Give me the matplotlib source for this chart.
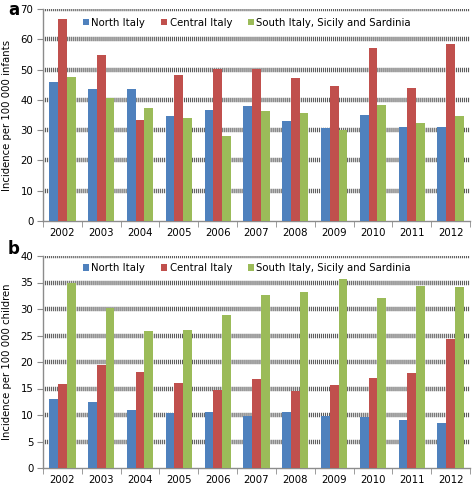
import numpy as np
import matplotlib.pyplot as plt

plt.rcParams['lines.scale_dashes'] = False
plt.rcParams['font.family'] = ['DejaVu Sans']

years = ['2002', '2003', '2004', '2005', '2006', '2007', '2008', '2009', '2010', '2011', '2012']
regions = ['North Italy', 'Central Italy', 'South Italy, Sicily and Sardinia']
colors = ['#4F81BD', '#C0504D', '#9BBB59']

# panel a: infants
infants_north = [45.9, 43.6, 43.7, 34.8, 36.5, 38.1, 32.9, 30.7, 34.9, 31.1, 30.9]
infants_central = [66.7, 54.9, 33.2, 48.2, 50.2, 50.1, 47.2, 44.7, 57.0, 43.9, 58.6]
infants_south = [47.6, 40.6, 37.3, 34.0, 28.0, 36.4, 35.5, 30.2, 38.4, 32.2, 34.8]

# panel b: children
children_north = [13.1, 12.5, 10.9, 10.4, 10.6, 9.9, 10.6, 9.8, 9.7, 9.0, 8.5]
children_central = [15.8, 19.4, 18.1, 16.1, 14.7, 16.7, 14.5, 15.6, 16.9, 18.0, 24.3]
children_south = [34.9, 30.1, 25.9, 26.1, 28.8, 32.6, 33.3, 35.6, 32.0, 34.3, 34.2]

fs = 7.3
grey = '#8c8c8c'


def draw_panel(ax, series, ymax, ystep, ylabel, leg_y):
    x = np.arange(len(years))
    w = 0.225
    for i, (vals, c, name) in enumerate(zip(series, colors, regions)):
        ax.bar(x + (i - 1) * w, vals, width=w, color=c, label=name, zorder=3)
    ax.set_xlim(-0.5, len(years) - 0.5)
    ax.set_ylim(0, ymax)
    ax.set_yticks(np.arange(0, ymax + 0.1, ystep))
    ax.set_xticks(x)
    ax.set_xticklabels(years)
    ax.set_xticks(np.arange(-0.5, len(years), 1), minor=True)
    ax.tick_params(axis='x', which='major', length=0, labelsize=fs, pad=5)
    ax.tick_params(axis='x', which='minor', length=4, color=grey, direction='out')
    ax.tick_params(axis='y', length=4, color=grey, labelsize=fs, pad=3)
    for g in np.arange(ystep, ymax + 0.1, ystep):
        ax.axhline(g, color='#5c5c5c', linewidth=3.2,
                   linestyle=(0, (0.8, 0.65)), zorder=1)
    for s in ['top', 'right']:
        ax.spines[s].set_visible(False)
    for s in ['left', 'bottom']:
        ax.spines[s].set_color(grey)
        ax.spines[s].set_linewidth(1.0)
    ax.set_ylabel(ylabel, fontsize=fs, labelpad=6)
    leg = ax.legend(loc='center', bbox_to_anchor=(0.478, leg_y), ncol=3,
                    frameon=False, fontsize=fs, handlelength=0.55,
                    handleheight=0.55, handletextpad=0.25, columnspacing=1.6)
    return leg


fig = plt.figure(figsize=(4.72, 4.84), dpi=100)
W, H = 472.0, 484.0
ax1 = fig.add_axes([43 / W, 1 - 221 / H, 427 / W, 212 / H])
ax2 = fig.add_axes([43 / W, 1 - 468 / H, 427 / W, 212 / H])

draw_panel(ax1, [infants_north, infants_central, infants_south], 70, 10,
           'Incidence per 100 000 infants', 0.934)
draw_panel(ax2, [children_north, children_central, children_south], 40, 5,
           'Incidence per 100 000 children', 0.943)

fig.text(8 / W, 1 - 10 / H, 'a', fontsize=12, fontweight='bold', va='center', ha='left')
fig.text(8 / W, 1 - 249 / H, 'b', fontsize=12, fontweight='bold', va='center', ha='left')

fig.savefig('out.png', dpi=100)
